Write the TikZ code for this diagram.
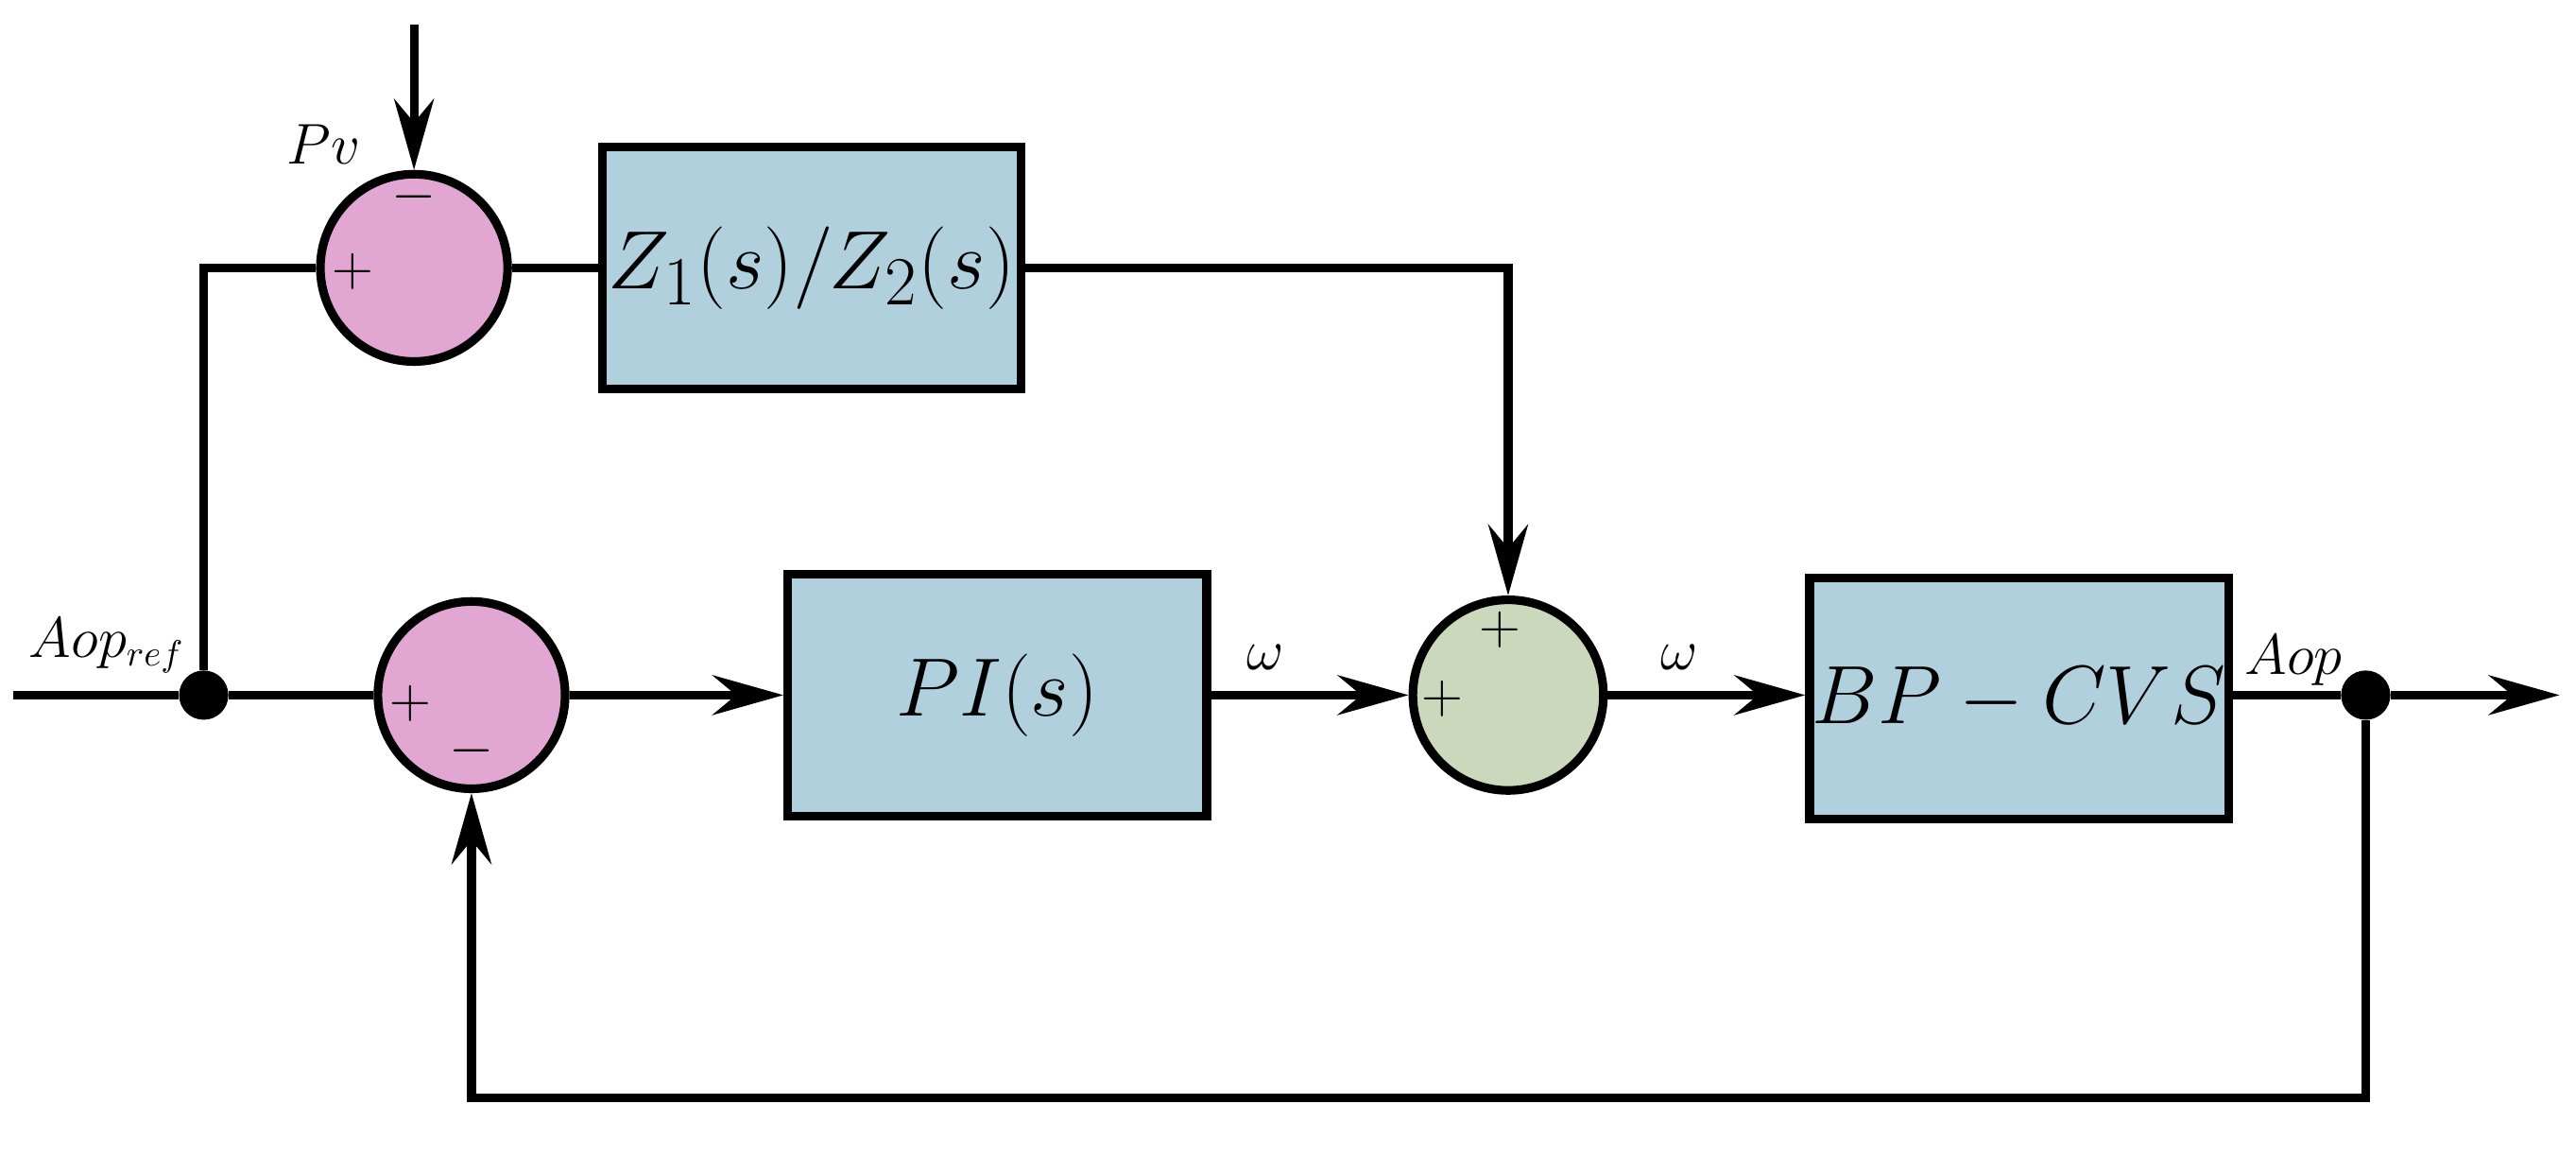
\documentclass[tikz,border=0pt]{standalone}
\usepackage{amsmath}
\usetikzlibrary{arrows.meta}
\definecolor{pinkc}{HTML}{E2A6D2}
\definecolor{bluec}{HTML}{B0D0DE}
\definecolor{greenc}{HTML}{CCD8BC}
\begin{document}
\begin{tikzpicture}[x=0.017385cm,y=-0.017385cm,
  lw/.style={line width=2.6pt},
  arr/.style={lw,-{Stealth[length=0.75cm,width=0.42cm,inset=0.25cm]}},
  blk/.style={draw,lw,fill=bluec,minimum width=255*0.017385cm,minimum height=147*0.017385cm,inner sep=0pt,font=\fontsize{28}{34}\selectfont},
  sum/.style={draw,lw,circle,minimum size=114*0.017385cm,inner sep=0pt},
  sgn/.style={font=\fontsize{18}{20}\selectfont,inner sep=0pt},
  lbl/.style={font=\fontsize{16}{18}\selectfont,inner sep=0pt},
  dot/.style={circle,fill,minimum size=30*0.017385cm,inner sep=0pt}]
\useasboundingbox (0,0) rectangle (1568,703);
\node[sum,fill=pinkc] (s1) at (252,163) {};
\node[sum,fill=pinkc] (s2) at (287,423) {};
\node[sum,fill=greenc,minimum size=116*0.017385cm] (s3) at (918,423) {};
\node[blk] (z) at (494,163) {$Z_1(s)/Z_2(s)$};
\node[blk] (pi) at (607,423) {$PI(s)$};
\node[blk] (bp) at (1229,425) {$BP-CVS$};
\node[dot] (d1) at (124,423) {};
\node[dot] (d2) at (1440,423) {};
\coordinate (in) at (8,423);
\coordinate (out) at (1558,423);
\coordinate (top) at (252,15);
\coordinate (c1) at (124,163);
\coordinate (c2) at (918,163);
\coordinate (c3) at (1440,668);
\coordinate (c4) at (287,668);
\node[sgn] at (252,120) {$-$};
\node[sgn] at (215,165) {$+$};
\node[sgn] at (250,428) {$+$};
\node[sgn] at (287,457) {$-$};
\node[sgn] at (913,383) {$+$};
\node[sgn] at (878,425) {$+$};
\node[lbl] at (197,88) {$Pv$};
\node[lbl] at (65,393) {$Aop_{ref}$};
\node[lbl] at (770,400) {$\omega$};
\node[lbl] at (1022,400) {$\omega$};
\node[lbl] at (1396,402) {$Aop$};
\draw[arr] (top) -- (s1.north);
\draw[lw] (in) -- (d1) -- (s2.west);
\draw[lw] (d1) -- (c1) -- (s1.west);
\draw[lw] (s1.east) -- (z.west);
\draw[arr] (z.east) -- (c2) -- (s3.north);
\draw[arr] (s2.east) -- (pi.west);
\draw[arr] (pi.east) -- (s3.west);
\draw[arr] (s3.east) -- (bp.west|-s3.east);
\draw[lw] (bp.east|-d2) -- (d2);
\draw[arr] (d2) -- (out);
\draw[arr] (d2) -- (c3) -- (c4) -- (s2.south);
\end{tikzpicture}
\end{document}
